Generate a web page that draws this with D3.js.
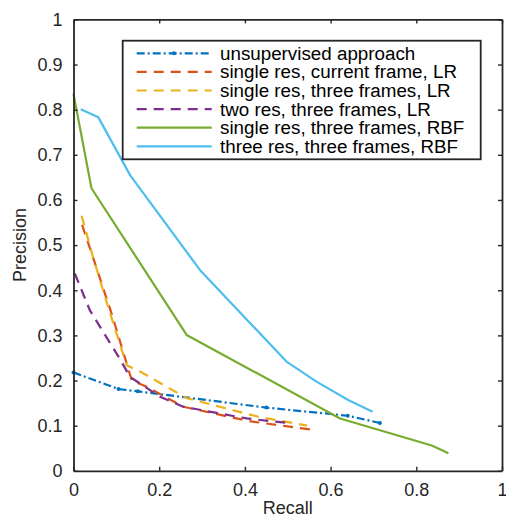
<!DOCTYPE html>
<html>
<head>
<meta charset="utf-8">
<script src="https://d3js.org/d3.v7.min.js"></script>
<style>
  body { margin: 0; background: white; }
  svg { font-family: "Liberation Sans", Arial, sans-serif; }
</style>
</head>
<body>
<div id="chart"></div>
<script>
// series names, legend order
const seriesNames = [
  'unsupervised approach',
  'single res, current frame, LR',
  'single res, three frames, LR',
  'two res, three frames, LR',
  'single res, three frames, RBF',
  'three res, three frames, RBF'
];

// recall / precision
const unsupRecall    = [0, 0.105, 0.15, 0.45, 0.64, 0.715];
const unsupPrecision = [0.218, 0.181, 0.176, 0.14, 0.122, 0.106];

const srCurRecall    = [0.02, 0.05, 0.09, 0.136, 0.171, 0.256, 0.41, 0.564];
const srCurPrecision = [0.545, 0.46, 0.345, 0.2, 0.186, 0.142, 0.11, 0.09];

const sr3fRecall     = [0.019, 0.045, 0.085, 0.124, 0.155, 0.264, 0.43, 0.545];
const sr3fPrecision  = [0.565, 0.475, 0.35, 0.234, 0.22, 0.161, 0.12, 0.1];

const tr3fRecall     = [0.003, 0.038, 0.062, 0.105, 0.132, 0.202, 0.256, 0.404, 0.51];
const tr3fPrecision  = [0.437, 0.356, 0.319, 0.253, 0.208, 0.164, 0.142, 0.116, 0.105];

const srRbfRecall    = [0, 0.042, 0.264, 0.622, 0.836, 0.875];
const srRbfPrecision = [0.835, 0.626, 0.301, 0.116, 0.056, 0.039];

const thRbfRecall    = [0.017, 0.058, 0.132, 0.295, 0.497, 0.568, 0.641, 0.698];
const thRbfPrecision = [0.801, 0.783, 0.655, 0.445, 0.242, 0.197, 0.157, 0.131];

const xTicks = [0, 0.2, 0.4, 0.6, 0.8, 1];
const yTicks = [0, 0.1, 0.2, 0.3, 0.4, 0.5, 0.6, 0.7, 0.8, 0.9, 1];

const colors = ['#0072BD', '#D95319', '#EDB120', '#7E2F8E', '#77AC30', '#4DBEEE'];
const dashes = ['8,3,2,3', '10,7', '10,7', '10,7', null, null];

const allRecall = [unsupRecall, srCurRecall, sr3fRecall, tr3fRecall, srRbfRecall, thRbfRecall];
const allPrecision = [unsupPrecision, srCurPrecision, sr3fPrecision, tr3fPrecision, srRbfPrecision, thRbfPrecision];

const width = 506;
const height = 517;
const margin = { left: 73.5, top: 19.4, right: 4, bottom: 46.2 };
const axisColor = '#262626';

const series = seriesNames.map((name, i) => ({
  name: name,
  color: colors[i],
  dash: dashes[i],
  points: allRecall[i].map((r, j) => ({ x: r, y: allPrecision[i][j] }))
}));

const svg = d3.select('#chart')
  .append('svg')
  .attr('width', width)
  .attr('height', height)
  .style('background', 'white');

const x = d3.scaleLinear().domain([0, 1]).range([margin.left, width - margin.right]);
const y = d3.scaleLinear().domain([0, 1]).range([height - margin.bottom, margin.top]);

// lines
const line = d3.line().x(d => x(d.x)).y(d => y(d.y));

svg.append('g')
  .selectAll('path')
  .data(series)
  .join('path')
    .attr('d', d => line(d.points))
    .attr('fill', 'none')
    .attr('stroke', d => d.color)
    .attr('stroke-width', 2.2)
    .attr('stroke-dasharray', d => d.dash)
    .attr('stroke-linejoin', 'round');

// dot markers on the unsupervised curve
svg.append('g')
  .selectAll('circle')
  .data(series[0].points)
  .join('circle')
    .attr('cx', d => x(d.x))
    .attr('cy', d => y(d.y))
    .attr('r', 2)
    .attr('fill', colors[0]);

// axes, matlab style box with inward ticks
const styleAxis = g => {
  g.select('.domain').attr('stroke', axisColor).attr('stroke-width', 1.8);
  g.selectAll('.tick line').attr('stroke', axisColor).attr('stroke-width', 1.4);
  g.selectAll('.tick text').attr('fill', axisColor).style('font-size', '18px');
};

svg.append('g')
  .attr('transform', `translate(0,${y(0)})`)
  .call(d3.axisBottom(x).tickValues(xTicks).tickFormat(d3.format('')).tickSizeInner(-4).tickSizeOuter(0).tickPadding(12))
  .call(styleAxis);

svg.append('g')
  .attr('transform', `translate(0,${y(1)})`)
  .call(d3.axisTop(x).tickValues(xTicks).tickFormat('').tickSizeInner(-4).tickSizeOuter(0))
  .call(styleAxis);

svg.append('g')
  .attr('transform', `translate(${x(0)},0)`)
  .call(d3.axisLeft(y).tickValues(yTicks).tickFormat(d3.format('')).tickSizeInner(-4).tickSizeOuter(0).tickPadding(11))
  .call(styleAxis);

svg.append('g')
  .attr('transform', `translate(${x(1)},0)`)
  .call(d3.axisRight(y).tickValues(yTicks).tickFormat('').tickSizeInner(-4).tickSizeOuter(0))
  .call(styleAxis);

// axis titles
svg.append('text')
  .attr('x', (x(0) + x(1)) / 2)
  .attr('y', 514)
  .attr('text-anchor', 'middle')
  .attr('fill', axisColor)
  .style('font-size', '18px')
  .text('Recall');

svg.append('text')
  .attr('transform', `translate(26,${(y(0) + y(1)) / 2}) rotate(-90)`)
  .attr('text-anchor', 'middle')
  .attr('fill', axisColor)
  .style('font-size', '18px')
  .text('Precision');

// legend
const legend = svg.append('g').attr('id', 'legend');

legend.append('rect')
  .attr('x', 122.7)
  .attr('y', 40.7)
  .attr('width', 358)
  .attr('height', 118.6)
  .attr('fill', 'white')
  .attr('stroke', axisColor)
  .attr('stroke-width', 1.8);

const item = legend.selectAll('g.item')
  .data(series)
  .join('g')
    .attr('class', 'item')
    .attr('transform', (d, i) => `translate(0,${53.3 + i * 18.6})`);

item.append('line')
  .attr('x1', 136.7)
  .attr('x2', 211.7)
  .attr('stroke', d => d.color)
  .attr('stroke-width', 2.2)
  .attr('stroke-dasharray', d => d.dash);

legend.append('circle')
  .attr('cx', 174)
  .attr('cy', 53.3)
  .attr('r', 2)
  .attr('fill', colors[0]);

item.append('text')
  .attr('x', 220)
  .attr('dy', '0.35em')
  .attr('fill', 'black')
  .style('font-size', '18.8px')
  .text(d => d.name);
</script>
</body>
</html>
